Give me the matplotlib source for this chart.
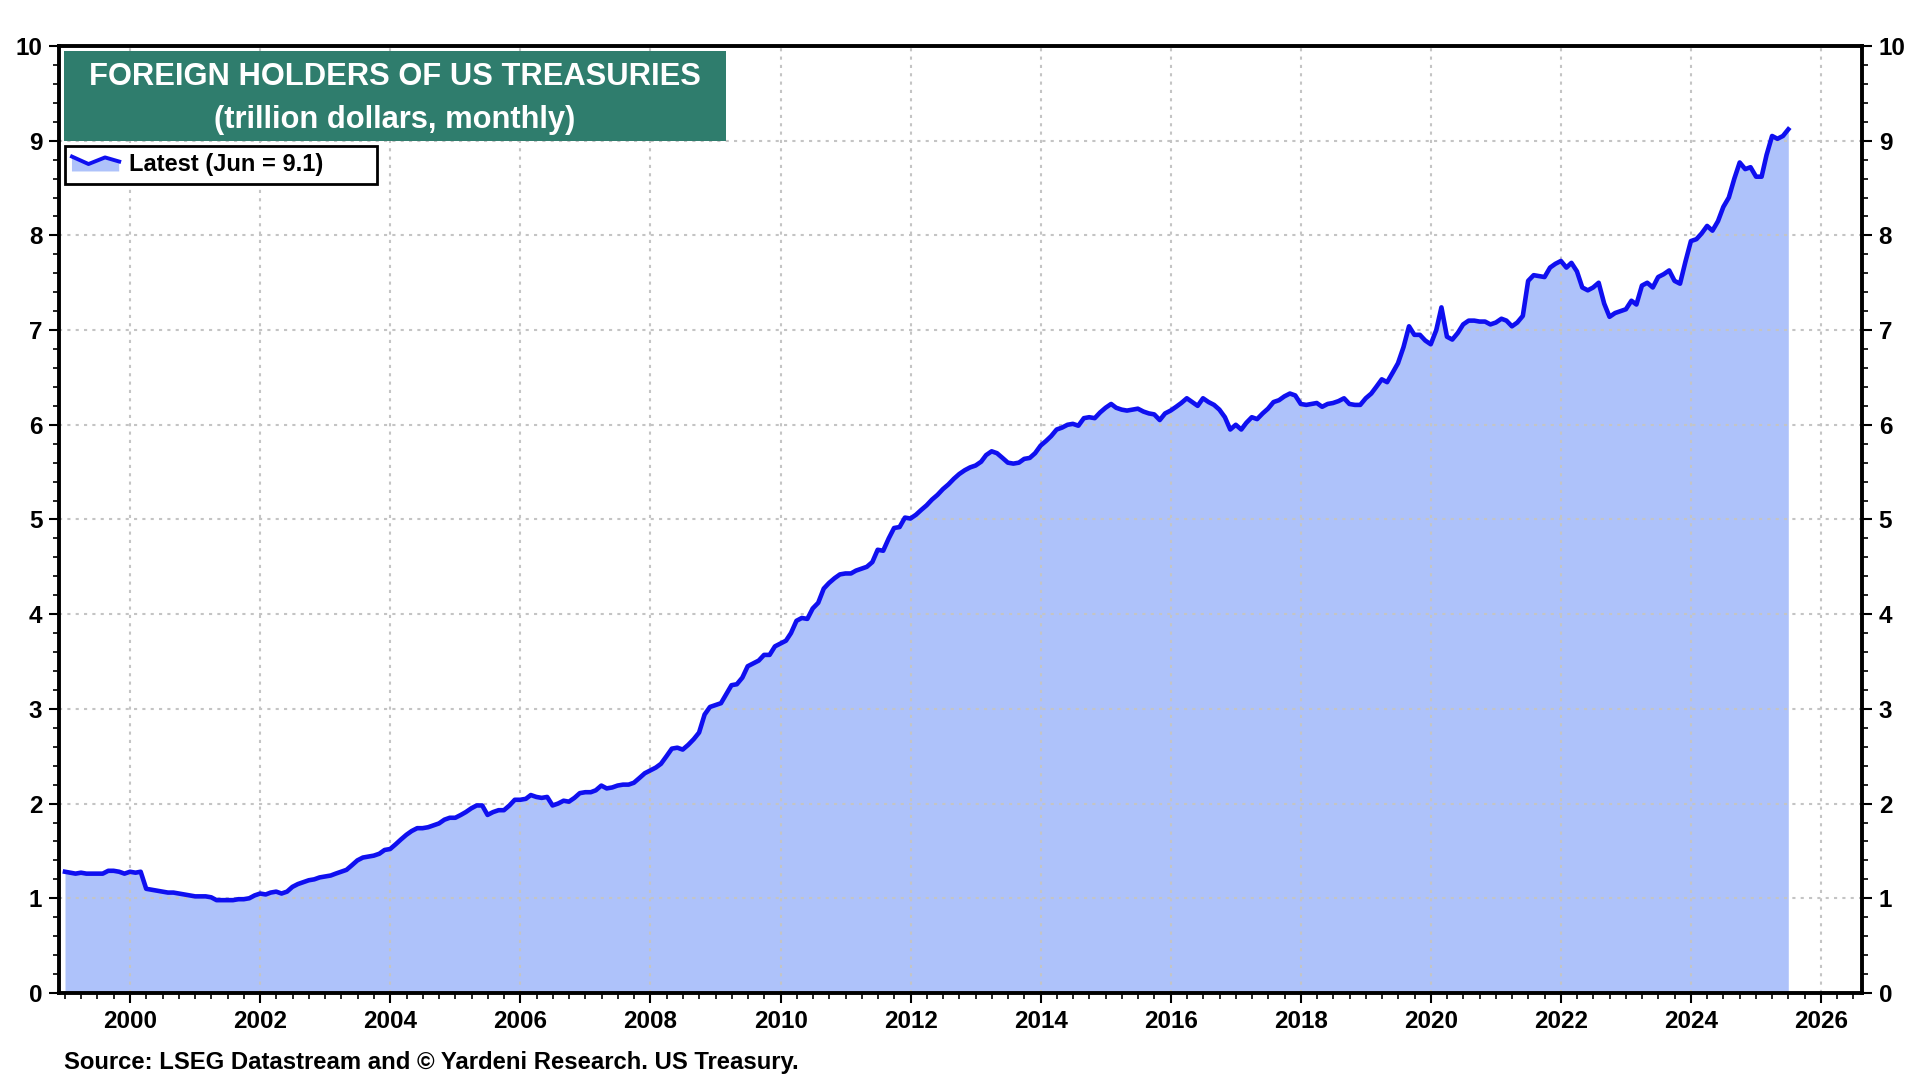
import numpy as np
import pandas as pd
import matplotlib
matplotlib.use("Agg")
import matplotlib.pyplot as plt
import matplotlib.dates as mdates
from matplotlib.patches import Rectangle, Polygon
from matplotlib.lines import Line2D
from matplotlib.legend_handler import HandlerBase
from matplotlib.ticker import MultipleLocator

plt.rcParams["font.family"] = ["Liberation Sans", "DejaVu Sans"]
plt.rcParams["font.weight"] = "bold"

# Data: foreign holdings of US Treasuries, trillion dollars, month-end (Dec 1998 - Jun 2025)
h1999_2003 = [
    1.28, 1.27, 1.26, 1.27, 1.26, 1.26, 1.26, 1.26, 1.29, 1.29, 1.28, 1.26,
    1.28, 1.27, 1.28, 1.10, 1.09, 1.08, 1.07, 1.06, 1.06, 1.05, 1.04, 1.03,
    1.02, 1.02, 1.02, 1.01, 0.98, 0.98, 0.98, 0.98, 0.99, 0.99, 1.00, 1.03,
    1.05, 1.04, 1.06, 1.07, 1.05, 1.07, 1.12, 1.15, 1.17, 1.19, 1.20, 1.22,
    1.23, 1.24, 1.26, 1.28, 1.30, 1.35, 1.40, 1.43, 1.44, 1.45, 1.47, 1.51,
]
h2004_2008 = [
    1.52, 1.57, 1.62, 1.67, 1.71, 1.74, 1.74, 1.75, 1.77, 1.79, 1.83, 1.85,
    1.85, 1.88, 1.91, 1.95, 1.98, 1.98, 1.88, 1.91, 1.93, 1.93, 1.98, 2.04,
    2.04, 2.05, 2.09, 2.07, 2.06, 2.07, 1.98, 2.00, 2.03, 2.02, 2.06, 2.11,
    2.12, 2.12, 2.14, 2.19, 2.16, 2.17, 2.19, 2.20, 2.20, 2.22, 2.27, 2.32,
    2.35, 2.38, 2.42, 2.50, 2.58, 2.59, 2.57, 2.62, 2.68, 2.75, 2.94, 3.02,
]
h2009_2013 = [
    3.04, 3.06, 3.15, 3.25, 3.26, 3.33, 3.45, 3.48, 3.51, 3.57, 3.57, 3.66,
    3.69, 3.72, 3.80, 3.93, 3.96, 3.95, 4.06, 4.12, 4.27, 4.33, 4.38, 4.42,
    4.43, 4.43, 4.46, 4.48, 4.50, 4.55, 4.68, 4.67, 4.80, 4.91, 4.92, 5.02,
    5.01, 5.05, 5.10, 5.15, 5.21, 5.26, 5.32, 5.37, 5.43, 5.48, 5.52, 5.55,
    5.57, 5.61, 5.68, 5.72, 5.70, 5.65, 5.60, 5.59, 5.60, 5.64, 5.65, 5.70,
]
h2014_2018 = [
    5.78, 5.83, 5.88, 5.95, 5.97, 6.00, 6.01, 5.99, 6.07, 6.08, 6.07, 6.13,
    6.18, 6.22, 6.18, 6.16, 6.15, 6.16, 6.17, 6.14, 6.12, 6.11, 6.05, 6.12,
    6.15, 6.19, 6.23, 6.28, 6.24, 6.20, 6.28, 6.24, 6.21, 6.16, 6.08, 5.95,
    6.00, 5.95, 6.02, 6.08, 6.06, 6.12, 6.17, 6.24, 6.26, 6.30, 6.33, 6.31,
    6.22, 6.21, 6.22, 6.23, 6.19, 6.22, 6.23, 6.25, 6.28, 6.22, 6.21, 6.21,
]
h2019_2025 = [
    6.28, 6.33, 6.40, 6.48, 6.45, 6.55, 6.65, 6.82, 7.04, 6.95, 6.95, 6.89,
    6.85, 7.00, 7.24, 6.93, 6.90, 6.97, 7.06, 7.10, 7.10, 7.09, 7.09, 7.06,
    7.08, 7.12, 7.10, 7.04, 7.08, 7.15, 7.52, 7.58, 7.57, 7.56, 7.66, 7.70,
    7.73, 7.66, 7.71, 7.62, 7.45, 7.42, 7.45, 7.50, 7.28, 7.14, 7.18, 7.20,
    7.22, 7.31, 7.27, 7.47, 7.50, 7.45, 7.56, 7.59, 7.63, 7.52, 7.49, 7.72,
    7.94, 7.96, 8.02, 8.10, 8.05, 8.15, 8.30, 8.40, 8.60, 8.77, 8.70, 8.72,
    8.62, 8.62, 8.85, 9.05, 9.02, 9.05, 9.12,
]

values = np.array(h1999_2003 + h2004_2008 + h2009_2013 + h2014_2018 + h2019_2025)
dates = pd.date_range("1998-12-31", periods=len(values), freq="ME")

title_line1 = "FOREIGN HOLDERS OF US TREASURIES"
title_line2 = "(trillion dollars, monthly)"
legend_label = "Latest (Jun = 9.1)"
source_text = "Source: LSEG Datastream and \u00a9 Yardeni Research. US Treasury."

line_color = "#0f0ff0"
fill_color = "#aec2fa"
box_color = "#2f7d6d"


class ZigzagHandler(HandlerBase):
    # small line-with-fill icon for the legend
    def create_artists(self, legend, orig_handle, xdescent, ydescent,
                       width, height, fontsize, trans):
        xs = np.array([0.0, 0.35, 0.7, 1.0]) * width - xdescent
        ys = np.array([0.9, 0.45, 0.85, 0.6]) * height - ydescent
        poly = np.column_stack([np.r_[xs, xs[-1], xs[0]],
                                np.r_[ys, -ydescent, -ydescent]])
        fill = Polygon(poly, closed=True, facecolor=fill_color,
                       edgecolor="none", transform=trans)
        line = Line2D(xs, ys, color=line_color, lw=2.8, transform=trans)
        return [fill, line]


# Plot
fig = plt.figure(figsize=(19.2, 10.8), dpi=100)
ax = fig.add_axes([0.0307, 0.0806, 0.9391, 0.8768])

ax.fill_between(dates, 0, values, color=fill_color, lw=0, zorder=1)
ax.plot(dates, values, color=line_color, lw=3.3, zorder=3)

ax.set_ylim(0, 10)
ax.set_xlim(pd.Timestamp("1998-11-27"), pd.Timestamp("2026-08-18"))

ax.xaxis.set_major_locator(mdates.YearLocator(2))
ax.xaxis.set_major_formatter(mdates.DateFormatter("%Y"))
ax.xaxis.set_minor_locator(mdates.MonthLocator(bymonth=(1, 4, 7, 10)))
ax.yaxis.set_major_locator(MultipleLocator(1))
ax.yaxis.set_minor_locator(MultipleLocator(0.2))

ax.grid(True, which="major", color="#c4c4c4", linestyle=(0, (1.5, 2.5)), lw=1.5, zorder=2)
ax.set_axisbelow(False)

for s in ax.spines.values():
    s.set_linewidth(2.8)
    s.set_zorder(5)

ax.tick_params(axis="both", which="major", direction="out", length=7, width=1.5,
               labelsize=17.5, pad=5)
ax.tick_params(axis="both", which="minor", direction="out", length=4, width=1.2)
ax.tick_params(axis="y", which="both", left=True, right=True, labelleft=True, labelright=True)
ax.tick_params(axis="x", which="both", top=False, bottom=True)

# Title box
ax.add_patch(Rectangle((0.0028, 0.8997), 0.367, 0.095, transform=ax.transAxes,
                       facecolor=box_color, edgecolor="none", zorder=6))
ax.text(0.1863, 0.967, title_line1, transform=ax.transAxes, ha="center", va="center",
        color="white", fontsize=22.2, fontweight="bold", zorder=7)
ax.text(0.1863, 0.9215, title_line2, transform=ax.transAxes, ha="center", va="center",
        color="white", fontsize=22.2, fontweight="bold", zorder=7)

# Legend, stretched to the width of the reference box
handle = Line2D([], [])
leg = ax.legend([handle], [legend_label], handler_map={handle: ZigzagHandler()},
                loc="upper left", bbox_to_anchor=(0.0033, 0.854, 0.173, 0.04),
                mode="expand", borderaxespad=0,
                fancybox=False, framealpha=1, edgecolor="black", fontsize=17,
                handlelength=2.0, handletextpad=0.4, borderpad=0.3)
leg.get_frame().set_linewidth(2)
leg.set_zorder(8)

fig.text(0.0333, 0.016, source_text, ha="left", va="center", fontsize=17.2, fontweight="bold")

plt.savefig("out.png", dpi=100)
